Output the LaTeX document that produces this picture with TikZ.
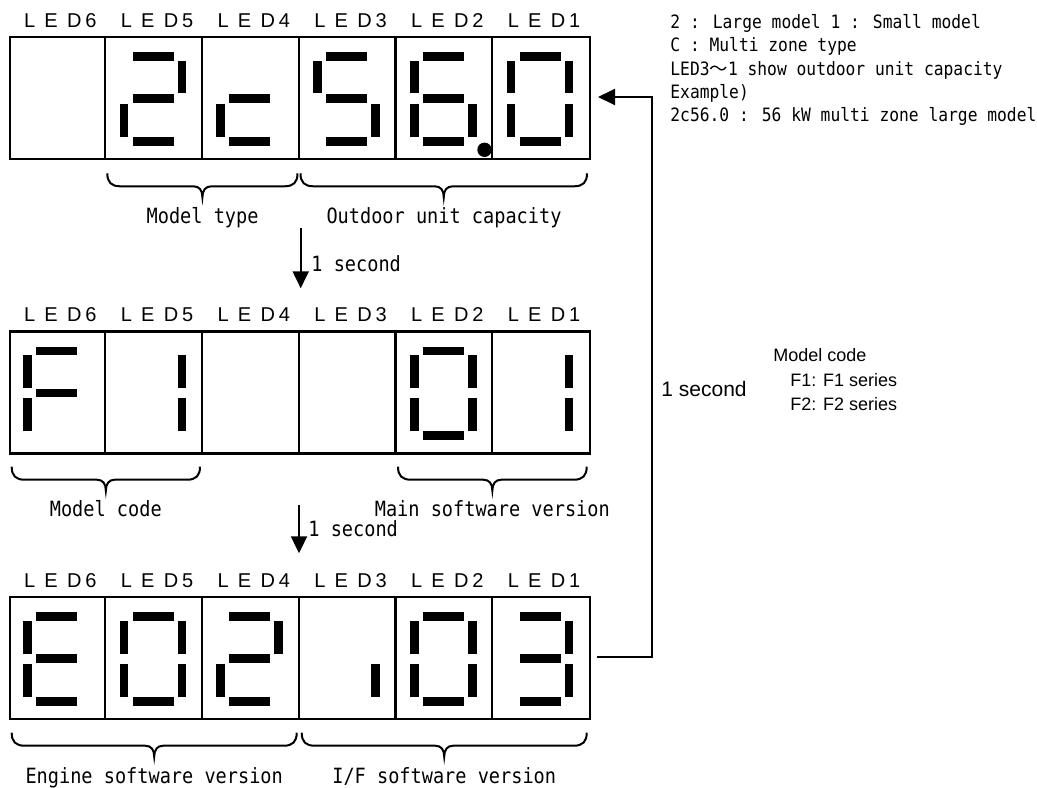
\documentclass[tikz,border=0pt]{standalone}
\usepackage{fontspec}
\setmainfont{Liberation Sans}
\newfontfamily\goth[FakeStretch=0.885]{DejaVu Sans Mono}
\newfontfamily\cjkf{Noto Sans CJK JP}
\usetikzlibrary{arrows.meta}

% seven segments: cx = cell centre, ty = top of display (px, y down)
\newcommand\sgA[2]{\fill ({#1-21},{#2+16.3}) rectangle ({#1+20},{#2+25});}
\newcommand\sgB[2]{\fill ({#1+24},{#2+25}) rectangle ({#1+32.7},{#2+57.6});}
\newcommand\sgC[2]{\fill ({#1+24},{#2+68}) rectangle ({#1+32.7},{#2+101});}
\newcommand\sgD[2]{\fill ({#1-21},{#2+101}) rectangle ({#1+20},{#2+110});}
\newcommand\sgE[2]{\fill ({#1-34},{#2+68}) rectangle ({#1-25.3},{#2+101});}
\newcommand\sgF[2]{\fill ({#1-34},{#2+25}) rectangle ({#1-25.3},{#2+57.6});}
\newcommand\sgG[2]{\fill ({#1-21},{#2+58.3}) rectangle ({#1+20},{#2+67});}
\newcommand\ledchar[3]{\foreach \s in {#3}{\csname sg\s\endcsname{#1}{#2}}}

% display frame with six cells and LED labels
\newcommand\ledpanel[2]{%
  \node[frame, anchor=north west, inner sep=0pt, minimum width=290.25pt, minimum height=61pt] (#1) at (8.5,#2) {};
  \foreach \i in {1,...,5}{\draw[frame] ({8.5+96.75*\i},#2) -- ({8.5+96.75*\i},{#2+122});}
  \foreach \n [count=\i] in {6,5,4,3,2,1}{%
    \node[ledlab, anchor=base] (#1l\n) at ({8.5+96.75*(\i-0.5)+3.5},{#2-8.5}) {L\kern4.6pt E\kern4.6pt D\kern2pt \n};}
}

% curly brace under a span: xa, xb, y0
\newcommand\ledbrace[3]{%
  \draw[brc] (#1,#3) .. controls (#1,{#3+9}) and ({#1+4},{#3+13}) .. ({#1+13},{#3+13})
    -- ({(#1+#2)/2-9},{#3+13}) .. controls ({(#1+#2)/2-3},{#3+13}) and ({(#1+#2)/2},{#3+17}) .. ({(#1+#2)/2},{#3+24})
    .. controls ({(#1+#2)/2},{#3+17}) and ({(#1+#2)/2+3},{#3+13}) .. ({(#1+#2)/2+9},{#3+13})
    -- ({#2-13},{#3+13}) .. controls ({#2-4},{#3+13}) and (#2,{#3+9}) .. (#2,#3);}

\tikzset{
  frame/.style={draw, line width=1.15pt},
  brc/.style={line width=1pt},
  arr/.style={line width=1pt, -{Triangle[length=8.5pt,width=8pt]}},
  ledlab/.style={inner sep=0pt, font=\fontsize{10pt}{12pt}\selectfont},
  gtext/.style={inner sep=0pt, font=\goth\fontsize{10.5pt}{12pt}\selectfont},
  gsmall/.style={inner sep=0pt, anchor=base west, font=\goth\fontsize{9.2pt}{11pt}\selectfont},
  atext/.style={inner sep=0pt, anchor=base west, font=\fontsize{9pt}{11pt}\selectfont},
}

\begin{document}
\begin{tikzpicture}[x=0.5pt,y=-0.5pt]
\useasboundingbox (0,0) rectangle (1037,787);

% ---------- top display: 2c56.0 ----------
\ledpanel{dtop}{35.7}
\ledchar{153.6}{35.7}{A,B,G,E,D}
\ledchar{250.4}{35.7}{G,E,D}
\ledchar{347.1}{35.7}{A,F,G,C,D}
\ledchar{443.9}{35.7}{A,F,G,E,C,D}
\fill (484.5,149.8) circle[radius=3.6pt];
\ledchar{540.6}{35.7}{A,B,C,D,E,F}

\ledbrace{107.3}{297.5}{173.3}
\ledbrace{300.5}{587}{173.3}
\node[gtext, anchor=base] (mtype) at (202.6,223.3) {Model type};
\node[gtext, anchor=base] (ocap) at (444,223.3) {Outdoor unit capacity};

% ---------- middle display: F1  01 ----------
\ledpanel{dmid}{330.2}
\ledchar{56.9}{330.2}{A,F,G,E}
\ledchar{153.6}{330.2}{B,C}
\ledchar{443.9}{330.2}{A,B,C,D,E,F}
\ledchar{540.6}{330.2}{B,C}

\ledbrace{11.7}{200}{466.7}
\ledbrace{398}{586.7}{466.7}
\node[gtext, anchor=base] (mcode) at (105.8,516.7) {Model code};
\node[gtext, anchor=base] (msw) at (492.3,516.7) {Main software version};

% ---------- bottom display: E02.03 ----------
\ledpanel{dbot}{596}
\ledchar{56.9}{596}{A,F,G,E,D}
\ledchar{153.6}{596}{A,B,C,D,E,F}
\ledchar{250.4}{596}{A,B,G,E,D}
\ledchar{347.1}{596}{C}
\ledchar{443.9}{596}{A,B,C,D,E,F}
\ledchar{540.6}{596}{A,B,G,C,D}

\ledbrace{11.7}{296.7}{732.7}
\ledbrace{301.7}{586.7}{732.7}
\node[gtext, anchor=base] (esw) at (154.2,783.3) {Engine software version};
\node[gtext, anchor=base] (ifsw) at (444.2,783.3) {I/F software version};

% ---------- arrows ----------
\coordinate (a1s) at (300.7,228);
\coordinate (a1e) at (300.7,288.3);
\draw[arr] (a1s) -- (a1e);
\node[gtext, anchor=base west] (t1) at (311,271.7) {1 second};

\coordinate (a2s) at (299,505);
\coordinate (a2e) at (299,553.3);
\draw[arr] (a2s) -- (a2e);
\node[gtext, anchor=base west] (t2) at (308,536.7) {1 second};

\coordinate (rb) at (597,656.7);
\coordinate (rc1) at (651.7,656.7);
\coordinate (rc2) at (651.7,97);
\coordinate (rt) at (598,97);
\draw[arr] (rb) -- (rc1) -- (rc2) -- (rt);
\node[inner sep=0pt, anchor=base west, font=\fontsize{10.5pt}{12pt}\selectfont] (t3) at (661,396) {1 second};

% ---------- notes ----------
\node[gsmall] (n1) at (670,28.3) {2 : Large model 1 : Small model};
\node[gsmall] (n2) at (670,51.7) {C : Multi zone type};
\node[gsmall] (n3) at (670,75) {LED3{\cjkf ～}1 show outdoor unit capacity};
\node[gsmall] (n4) at (670,98.3) {Example)};
\node[gsmall] (n5) at (670,121.7) {2c56.0 : 56 kW multi zone large model};

\node[atext] (m1) at (773,361.7) {Model code};
\node[atext] (m2) at (790,386) {F1: F1 series};
\node[atext] (m3) at (790,410) {F2: F2 series};
\end{tikzpicture}
\end{document}
